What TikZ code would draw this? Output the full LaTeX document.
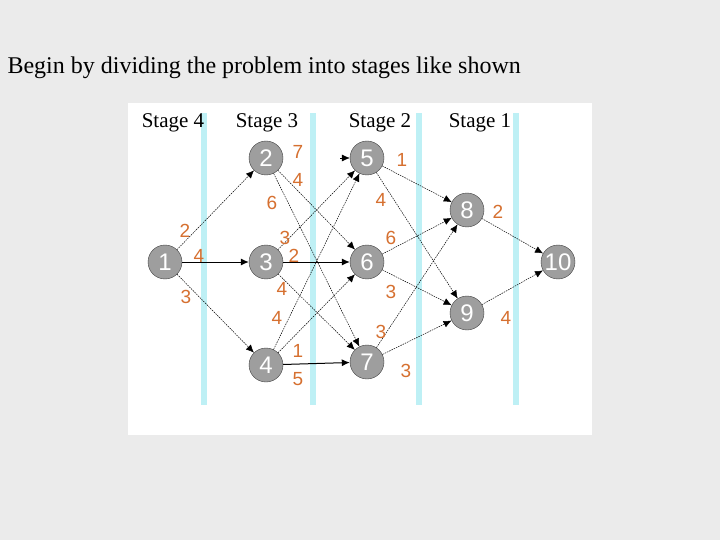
\documentclass[tikz,border=0pt]{standalone}
\usepackage{fontspec}
\setmainfont{Liberation Serif}
\newfontfamily\lsans{Liberation Sans}
\usetikzlibrary{arrows.meta}
\begin{document}
\begin{tikzpicture}[x=1pt,y=-1pt,
  st/.style={circle,draw=black!75,fill=black!38,text=white,minimum size=34pt,inner sep=0pt,font=\lsans\fontsize{24}{24}\selectfont},
  wt/.style={text={rgb,255:red,214;green,112;blue,48},font=\lsans\fontsize{19}{19}\selectfont,inner sep=0pt},
  dl/.style={-{Latex[length=8pt,width=7pt]},dash pattern=on 1.5pt off 1pt,line width=0.5pt},
  sl/.style={-{Latex[length=8pt,width=7pt]},line width=1pt},
  bar/.style={fill={rgb,255:red,190;green,240;blue,245},draw=none}]
\useasboundingbox (0,0) rectangle (720,540);
\fill[black!8] (0,0) rectangle (720,540);
\node[anchor=west,font=\fontsize{24}{24}\selectfont] (title) at (4,68) {Begin by dividing the problem into stages like shown};
\fill[white] (128,103) rectangle (592,435);
\foreach \x in {204,313,419,516} \fill[bar] (\x-3,113) rectangle (\x+3,405);
\foreach \x/\s in {173/4,267/3,380/2,480/1}
  \node[font=\fontsize{21}{21}\selectfont] (s\s) at (\x,123) {Stage \s};
\node[st] (n1) at (165,262) {1};
\node[st] (n2) at (266,158) {2};
\node[st] (n3) at (266,262) {3};
\node[st] (n4) at (266,365) {4};
\node[st] (n5) at (367,158) {5};
\node[st] (n6) at (367,262) {6};
\node[st] (n7) at (367,362) {7};
\node[st] (n8) at (467,210) {8};
\node[st] (n9) at (467,313) {9};
\node[st] (n10) at (558,262) {10};
\draw[dl] (n1) -- (n2);
\draw[sl] (n1) -- (n3);
\draw[dl] (n1) -- (n4);
\coordinate (c5) at (340,158);
\draw[-{Latex[length=8pt,width=7pt]},line width=0.4pt] (c5) -- (n5);
\draw[dl] (n2) -- (n6);
\draw[dl] (n2) -- (n7);
\draw[dl] (n3) -- (n5);
\draw[sl] (n3) -- (n6);
\draw[dl] (n3) -- (n7);
\draw[dl] (n4) -- (n5);
\draw[dl] (n4) -- (n6);
\draw[sl] (n4) -- (n7);
\draw[dl] (n5) -- (n8);
\draw[dl] (n5) -- (n9);
\draw[dl] (n6) -- (n8);
\draw[dl] (n6) -- (n9);
\draw[dl] (n7) -- (n8);
\draw[dl] (n7) -- (n9);
\draw[dl] (n8) -- (n10);
\draw[dl] (n9) -- (n10);
\foreach \x/\y/\t [count=\i] in {185/231/2,199/256/4,186/297/3,298/152/7,298/180/4,272/203/6,285/238/3,294/256/2,282/289/4,277/318/4,298/351/1,298/379/5,402/160/1,381/200/4,391/238/6,391/292/3,381/332/3,406/371/3,498/212/2,506/318/4}
  \node[wt] (w\i) at (\x,\y) {\t};
\end{tikzpicture}
\end{document}
